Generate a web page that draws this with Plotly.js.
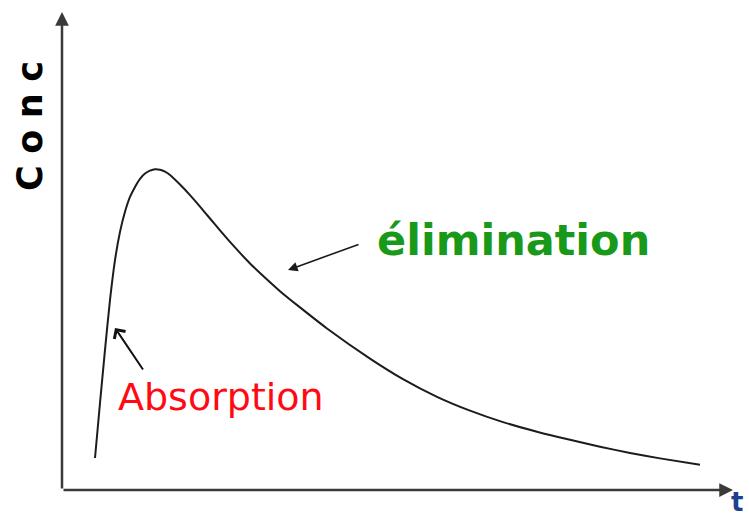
<!DOCTYPE html>
<html>
<head>
<meta charset="utf-8">
<script src="https://cdn.plot.ly/plotly-3.0.1.min.js"></script>
<style>html,body{margin:0;padding:0;background:#fff;}#chart{width:749px;height:521px;}</style>
</head>
<body>
<div id="chart"></div>
<script>
// Time (arbitrary units) and concentration (arbitrary units)
const time = [0.66, 0.76, 0.86, 0.96, 1.06, 1.16, 1.26, 1.36, 1.46, 1.56, 1.66, 1.76, 1.86, 1.96, 2.06, 2.16, 2.36, 2.56, 2.76, 2.96, 3.16, 3.36, 3.56, 3.76, 3.96, 4.36, 4.76, 5.30, 6.16, 6.82, 7.50, 8.16, 8.82, 9.50, 10.16, 10.76, 11.36, 11.96, 12.76];
const conc = [6.69, 18.2, 29.3, 39.75, 48.1, 54.0, 58.2, 61.3, 63.4, 65.1, 66.2, 66.8, 67.1, 67.0, 66.6, 65.9, 63.9, 61.7, 59.3, 56.8, 54.3, 51.9, 49.6, 47.4, 45.4, 41.6, 38.2, 33.8, 27.5, 23.2, 19.5, 16.6, 14.2, 12.2, 10.5, 9.07, 7.75, 6.62, 5.28];

const yLabel = "Conc";
const xLabel = "t";
const absLabel = "Absorption";
const elimLabel = "élimination";

const xMax = 13.42, yMax = 100;

const trace = {
  x: time, y: conc, type: 'scatter', mode: 'lines',
  line: {color: '#1c1c1c', width: 2, shape: 'spline', smoothing: 0.6},
  hoverinfo: 'skip', showlegend: false
};

const axisColor = '#3a3a3a';
const layout = {
  width: 749, height: 521,
  margin: {l: 62, r: 16, t: 12, b: 31, pad: 0},
  paper_bgcolor: '#ffffff', plot_bgcolor: '#ffffff',
  xaxis: {range: [0, xMax], showgrid: false, zeroline: false, showline: false, showticklabels: false, ticks: ''},
  yaxis: {range: [0, yMax], showgrid: false, zeroline: false, showline: false, showticklabels: false, ticks: ''},
  annotations: [
    // y axis arrow
    {x: 0, y: yMax, ax: 0, ay: 0, xref: 'x', yref: 'y', axref: 'x', ayref: 'y', text: '', showarrow: true,
     arrowhead: 2, arrowsize: 1.1, arrowwidth: 2.5, arrowcolor: axisColor, standoff: 0, startstandoff: 0},
    // x axis arrow
    {x: xMax, y: 0, ax: 0, ay: 0, xref: 'x', yref: 'y', axref: 'x', ayref: 'y', text: '', showarrow: true,
     arrowhead: 2, arrowsize: 1.1, arrowwidth: 2.5, arrowcolor: axisColor, standoff: 0, startstandoff: 0},
    // elimination arrow
    {x: 4.52, y: 46.0, ax: 5.96, ay: 51.5, xref: 'x', yref: 'y', axref: 'x', ayref: 'y', text: '', showarrow: true,
     arrowhead: 2, arrowsize: 1.2, arrowwidth: 1.6, arrowcolor: '#1a1a1a', standoff: 0},
    // absorption arrow
    {x: 1.06, y: 33.9, ax: 1.64, ay: 24.9, xref: 'x', yref: 'y', axref: 'x', ayref: 'y', text: '', showarrow: true,
     arrowhead: 4, arrowsize: 1.3, arrowwidth: 2, arrowcolor: '#111111', standoff: 0},
    // labels
    {x: 9.03, y: 52.3, xref: 'x', yref: 'y', text: elimLabel, showarrow: false, xanchor: 'center', yanchor: 'middle',
     font: {family: 'DejaVu Sans', size: 43, color: '#18991a', weight: 'bold'}},
    {x: 3.17, y: 19.5, xref: 'x', yref: 'y', text: absLabel, showarrow: false, xanchor: 'center', yanchor: 'middle',
     font: {family: 'DejaVu Sans', size: 38, color: '#ff0a14'}},
    {x: -0.0477, y: 0.7615, xref: 'paper', yref: 'paper', text: yLabel.split('').join('\u2004'), showarrow: false, textangle: -90,
     xanchor: 'center', yanchor: 'middle',
     font: {family: 'DejaVu Sans', size: 35, color: '#000000', weight: 'bold'}},
    {x: 1.006, y: -0.0251, xref: 'paper', yref: 'paper', text: xLabel, showarrow: false, xanchor: 'center', yanchor: 'middle',
     borderpad: 0,
     font: {family: 'DejaVu Sans', size: 26, color: '#1f3f8f', weight: 'bold'}}
  ]
};

Plotly.newPlot('chart', [trace], layout, {staticPlot: true, displayModeBar: false});
</script>
</body>
</html>
